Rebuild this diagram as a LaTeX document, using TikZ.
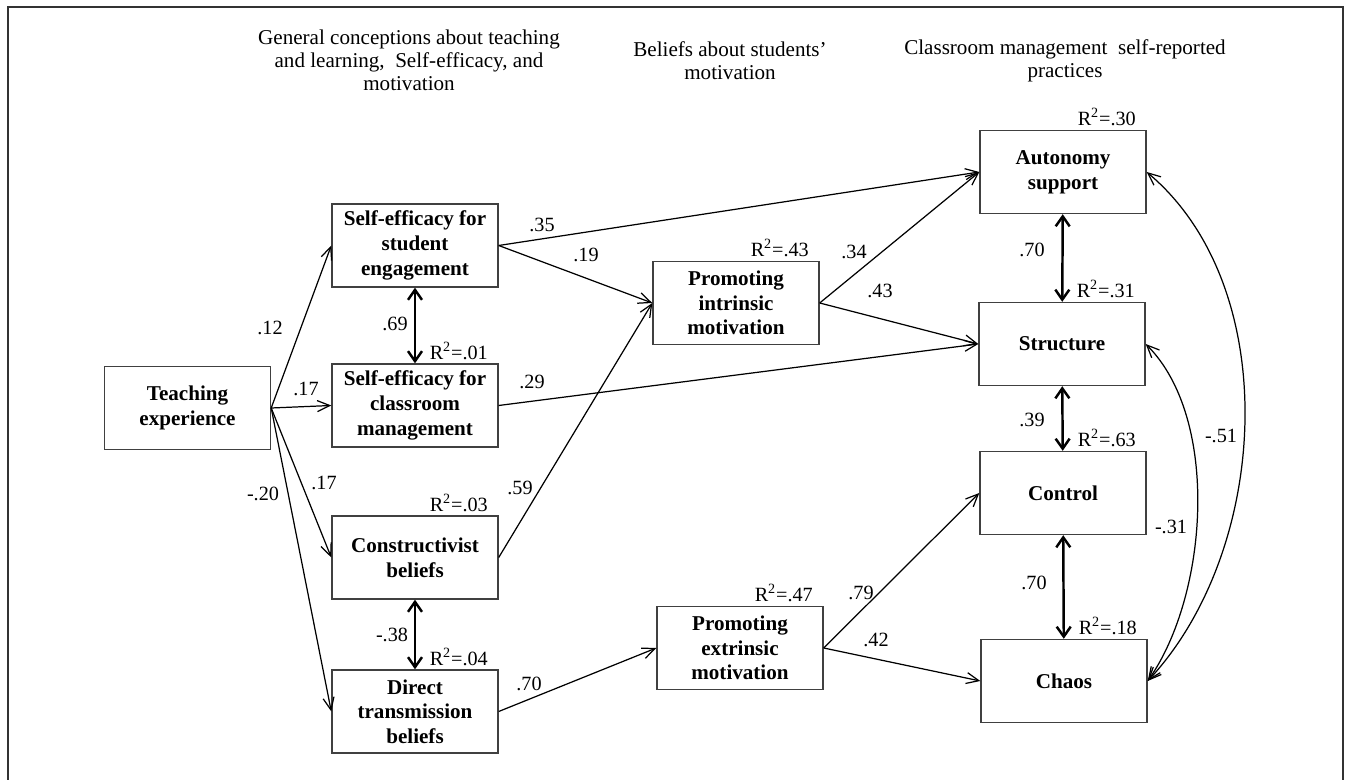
\documentclass[tikz,border=0pt]{standalone}
\usepackage{fontspec}
\setmainfont{Liberation Serif}
\usetikzlibrary{arrows.meta}

\begin{document}
\begin{tikzpicture}[font=\fontsize{11.5}{14}\selectfont]
    \useasboundingbox (0,0) rectangle (26.92,-15.6);
    \draw[line width=1.3pt, black!80] (0.16,-16) |- (26.86,-0.14) -- (26.86,-16);

    % column headings
    \begin{scope}[every node/.style={align=center,font=\fontsize{12}{13.2}\selectfont}]
      \node (h1) at (8.18,-1.20) {General conceptions about teaching\\and learning,\ \ Self-efficacy, and\\motivation};
      \node (h2) at (14.60,-1.22) {Beliefs about students'\\motivation};
      \node (h3) at (21.30,-1.22) {Classroom management\ \ self-reported\\practices};
    \end{scope}

    \begin{scope}[every node/.style={draw=black!75,line width=0.8pt,minimum width=3.32cm,minimum height=1.66cm,
        align=center,inner sep=1pt,font=\fontsize{12}{14}\selectfont\bfseries}]
      \node (teach) at (3.75,-8.16) {Teaching\\experience};
      \node (seeng) at (8.30,-4.91) {Self-efficacy for\\student\\engagement};
      \node (secm) at (8.30,-8.11) {Self-efficacy for\\classroom\\management};
      \node (constr) at (8.30,-11.15) {Constructivist\\beliefs};
      \node (direct) at (8.30,-14.23) {Direct\\transmission\\beliefs};
      \node (intr) at (14.72,-6.06) {Promoting\\intrinsic\\motivation};
      \node (extr) at (14.80,-12.96) {Promoting\\extrinsic\\motivation};
      \node (auto) at (21.26,-3.44) {Autonomy\\support};
      \node (struc) at (21.24,-6.88) {Structure};
      \node (contr) at (21.26,-9.86) {Control};
      \node (chaos) at (21.28,-13.62) {Chaos};
    \end{scope}

    % explained variance
    \begin{scope}[every node/.style={anchor=south east,inner sep=2pt}]
      \node (r01) at ([xshift=-0.14cm]secm.north east) {R\textsuperscript{2}=.01};
      \node (r03) at ([xshift=-0.14cm]constr.north east) {R\textsuperscript{2}=.03};
      \node (r04) at ([xshift=-0.14cm]direct.north east) {R\textsuperscript{2}=.04};
      \node (r43) at ([xshift=-0.14cm]intr.north east) {R\textsuperscript{2}=.43};
      \node (r47) at ([xshift=-0.14cm]extr.north east) {R\textsuperscript{2}=.47};
      \node (r30) at ([xshift=-0.14cm]auto.north east) {R\textsuperscript{2}=.30};
      \node (r31) at ([xshift=-0.14cm]struc.north east) {R\textsuperscript{2}=.31};
      \node (r63) at ([xshift=-0.14cm]contr.north east) {R\textsuperscript{2}=.63};
      \node (r18) at ([xshift=-0.14cm]chaos.north east) {R\textsuperscript{2}=.18};
    \end{scope}

    \begin{scope}[every edge/.style={draw=black,line width=0.7pt,-{Straight Barb[length=2.5mm,width=2.2mm]}}]
      \path (teach.east) edge (seeng.west);
      \path (teach.east) edge (secm.west);
      \path (teach.east) edge (constr.west);
      \path (teach.east) edge (direct.west);
      \path (seeng.east) edge (auto.west);
      \path (seeng.east) edge (intr.west);
      \path (secm.east) edge (struc.west);
      \path (constr.east) edge (intr.west);
      \path (direct.east) edge (extr.west);
      \path (intr.east) edge (auto.west);
      \path (intr.east) edge (struc.west);
      \path (extr.east) edge (contr.west);
      \path (extr.east) edge (chaos.west);
    \end{scope}
    \begin{scope}[every edge/.style={draw=black,line width=0.7pt,
        {Straight Barb[length=2.5mm,width=2.2mm]}-{Straight Barb[length=2.5mm,width=2.2mm]}}]
      \path (struc.east) edge[out=-45,in=55,looseness=0.8] (chaos.east);
      \path (auto.east) edge[out=-40,in=47,looseness=0.9] (chaos.east);
    \end{scope}
    \begin{scope}[every edge/.style={draw=black,line width=1.4pt,
        {Straight Barb[length=2mm,width=2.8mm]}-{Straight Barb[length=2mm,width=2.8mm]}}]
      \path (seeng) edge (secm);
      \path (constr) edge (direct);
      \path (auto) edge (struc);
      \path (struc) edge (contr);
      \path (contr) edge (chaos);
    \end{scope}

    % path coefficients
    \node (l12) at (5.40,-6.56) {.12};
    \node (l17a) at (6.12,-7.78) {.17};
    \node (l17b) at (6.48,-9.66) {.17};
    \node (l20) at (5.26,-9.88) {-.20};
    \node (l69) at (7.90,-6.48) {.69};
    \node (l38) at (7.84,-12.70) {-.38};
    \node (l35) at (10.84,-4.50) {.35};
    \node (l19) at (11.72,-5.10) {.19};
    \node (l29) at (10.64,-7.64) {.29};
    \node (l59) at (10.40,-9.76) {.59};
    \node (l70a) at (10.58,-13.68) {.70};
    \node (l34) at (17.08,-5.04) {.34};
    \node (l43) at (17.60,-5.82) {.43};
    \node (l79) at (17.22,-11.86) {.79};
    \node (l42) at (17.52,-12.80) {.42};
    \node (l70b) at (20.64,-5.00) {.70};
    \node (l39) at (20.64,-8.40) {.39};
    \node (l70c) at (20.68,-11.66) {.70};
    \node (l31) at (23.42,-10.54) {-.31};
    \node (l51) at (24.42,-8.72) {-.51};
\end{tikzpicture}
\end{document}
